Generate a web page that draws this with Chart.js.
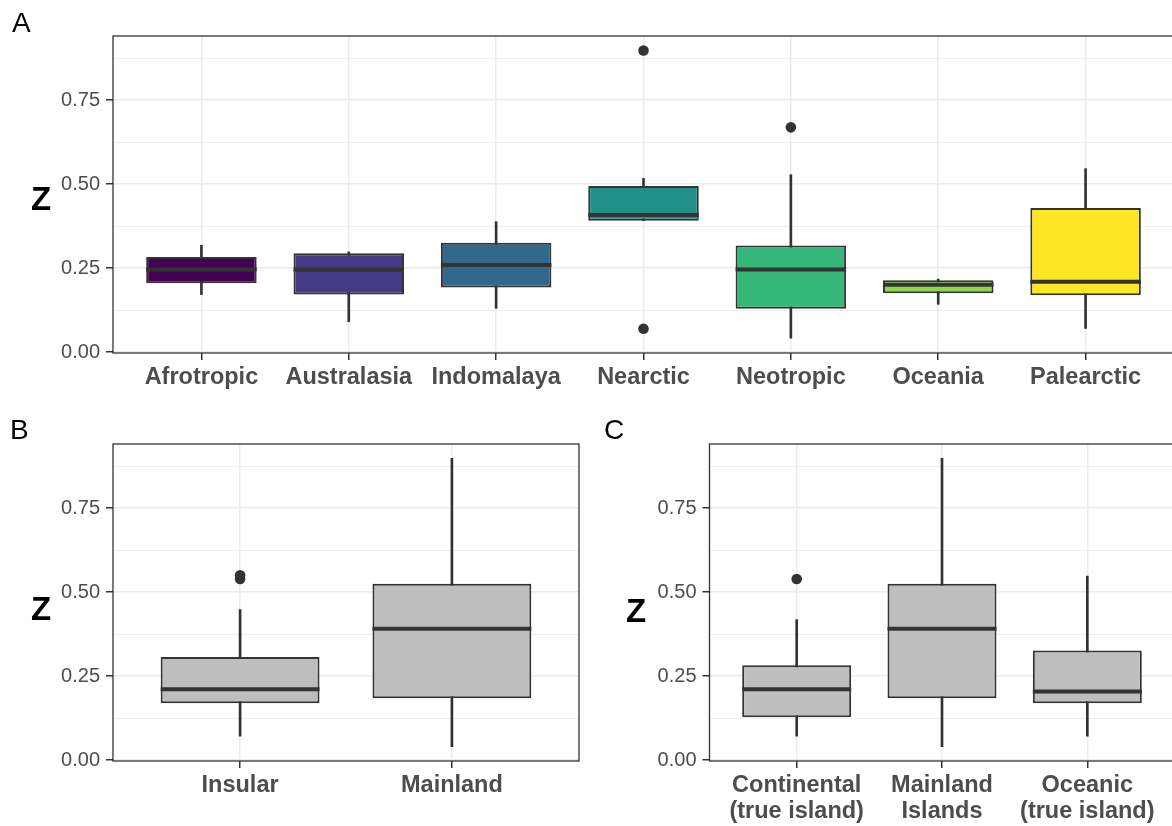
<!DOCTYPE html>
<html>
<head>
<meta charset="utf-8">
<script src="https://cdn.jsdelivr.net/npm/chart.js@4.4.1/dist/chart.umd.min.js"></script>
<style>
html,body{margin:0;padding:0;background:#fff;overflow:hidden;width:1172px;height:826px;position:relative;}
canvas{position:absolute;display:block;}
.lbl{position:absolute;font-family:"Liberation Sans",Arial,sans-serif;color:#000;line-height:1;white-space:nowrap;}
.panel{font-size:28px;}
.z{font-size:33px;font-weight:bold;}
</style>
</head>
<body>
<canvas id="cA" width="1176" height="405" style="left:0;top:0"></canvas>
<canvas id="cB" width="600" height="416" style="left:0;top:410px"></canvas>
<canvas id="cC" width="586" height="416" style="left:590px;top:410px"></canvas>
<div class="lbl panel" style="left:12px;top:9px">A</div>
<div class="lbl z" style="left:31px;top:182px">Z</div>
<div class="lbl panel" style="left:10px;top:416px">B</div>
<div class="lbl z" style="left:31px;top:592px">Z</div>
<div class="lbl panel" style="left:604px;top:416px">C</div>
<div class="lbl z" style="left:626px;top:594px">Z</div>
<script>
// ---------- Panel A: biogeographic realms ----------
const regionCats = ['Afrotropic','Australasia','Indomalaya','Nearctic','Neotropic','Oceania','Palearctic'];
const regionWhiskerLow  = [0.171, 0.090, 0.130, 0.391, 0.041, 0.142, 0.070];
const regionQ1          = [0.205, 0.171, 0.192, 0.391, 0.129, 0.175, 0.169];
const regionMedian      = [0.246, 0.246, 0.259, 0.408, 0.246, 0.200, 0.209];
const regionQ3          = [0.283, 0.294, 0.325, 0.494, 0.317, 0.214, 0.429];
const regionWhiskerHigh = [0.318, 0.298, 0.388, 0.517, 0.528, 0.217, 0.546];
const regionOutlierCat  = [3, 3, 4];
const regionOutlierVal  = [0.898, 0.069, 0.669];
const regionColors = ['#440154','#443A83','#31688E','#21908C','#35B779','#8FD744','#FDE725'];

// ---------- Panel B: insular vs mainland ----------
const landCats = ['Insular','Mainland'];
const landWhiskerLow  = [0.071, 0.040];
const landQ1          = [0.169, 0.184];
const landMedian      = [0.211, 0.391];
const landQ3          = [0.307, 0.525];
const landWhiskerHigh = [0.448, 0.898];
const landOutlierCat  = [0, 0];
const landOutlierVal  = [0.539, 0.550];

// ---------- Panel C: island types ----------
const islandCats = [['Continental','(true island)'],['Mainland','Islands'],['Oceanic','(true island)']];
const islandWhiskerLow  = [0.071, 0.040, 0.071];
const islandQ1          = [0.127, 0.184, 0.169];
const islandMedian      = [0.211, 0.391, 0.204];
const islandQ3          = [0.282, 0.525, 0.326];
const islandWhiskerHigh = [0.418, 0.898, 0.548];
const islandOutlierCat  = [0];
const islandOutlierVal  = [0.539];

// ---------- Y axis ----------
const yMajorTicks = [0, 0.25, 0.5, 0.75];
const yMinorTicks = [0.125, 0.375, 0.625, 0.875];
const yMin = -0.003, yMax = 0.941;

const FONT = '"Liberation Sans", Arial, sans-serif';
Chart.defaults.font.family = FONT;

const isMajor = v => yMajorTicks.some(t => Math.abs(t - v) < 1e-9);

const boxExtras = {
  id: 'boxExtras',
  afterDatasetsDraw(chart, args, opts) {
    const ctx = chart.ctx;
    const ys = chart.scales.y;
    const meta = chart.getDatasetMeta(1);
    ctx.save();
    ctx.strokeStyle = '#333333';
    ctx.lineWidth = 4;
    ctx.lineCap = 'butt';
    const meds = opts.medians || [];
    for (let i = 0; i < meds.length; i++) {
      const el = meta.data[i];
      if (!el) continue;
      const y = ys.getPixelForValue(meds[i]);
      ctx.beginPath();
      ctx.moveTo(el.x - el.width / 2, y);
      ctx.lineTo(el.x + el.width / 2, y);
      ctx.stroke();
    }
    const a = chart.chartArea;
    ctx.lineWidth = 1.3;
    ctx.strokeStyle = '#333333';
    ctx.strokeRect(a.left, a.top, a.right - a.left, a.bottom - a.top);
    ctx.restore();
  }
};

function makeBoxChart(id, p) {
  const n = p.cats.length;
  const idx = p.cats.map((c, i) => i);
  return new Chart(document.getElementById(id), {
    type: 'bar',
    data: {
      datasets: [
        {
          label: 'whisker',
          data: idx.map(i => ({x: i, y: [p.lo[i], p.hi[i]]})),
          backgroundColor: '#333333',
          borderWidth: 0,
          barThickness: 2,
          grouped: false,
          order: 2
        },
        {
          label: 'box',
          data: idx.map(i => ({x: i, y: [p.q1[i], p.q3[i]]})),
          backgroundColor: p.colors,
          borderColor: '#333333',
          borderWidth: 2,
          borderSkipped: false,
          categoryPercentage: 1,
          barPercentage: 0.75,
          grouped: false,
          order: 1
        },
        {
          type: 'scatter',
          label: 'outliers',
          data: p.outCat.map((c, k) => ({x: c, y: p.outVal[k]})),
          backgroundColor: '#333333',
          borderWidth: 0,
          pointRadius: 5.3,
          order: 0
        }
      ]
    },
    options: {
      responsive: false,
      animation: false,
      layout: {autoPadding: false, padding: p.padding},
      plugins: {
        legend: {display: false},
        tooltip: {enabled: false},
        boxExtras: {medians: p.med}
      },
      scales: {
        x: {
          type: 'linear',
          offset: false,
          min: -0.6,
          max: n - 1 + 0.6,
          afterBuildTicks: s => { s.ticks = idx.map(i => ({value: i})); },
          afterFit: s => { s.height = p.xH; },
          ticks: {
            autoSkip: false,
            maxRotation: 0,
            minRotation: 0,
            padding: 5,
            color: '#4d4d4d',
            font: {family: FONT, size: 23.5, weight: 'bold', lineHeight: 1.08},
            callback: v => p.cats[Math.round(v)]
          },
          grid: {
            offset: false,
            color: '#ebebeb',
            lineWidth: 1.5,
            tickColor: '#333333',
            tickLength: 7
          },
          border: {display: false}
        },
        y: {
          type: 'linear',
          min: yMin,
          max: yMax,
          afterBuildTicks: s => {
            s.ticks = yMajorTicks.concat(yMinorTicks).sort((a, b) => a - b).map(v => ({value: v}));
          },
          afterFit: s => { s.width = p.yW; },
          ticks: {
            autoSkip: false,
            padding: 6,
            color: '#4d4d4d',
            font: {family: FONT, size: 20},
            callback: v => isMajor(v) ? v.toFixed(2) : ''
          },
          grid: {
            color: '#ebebeb',
            lineWidth: c => (c.tick && !isMajor(c.tick.value)) ? 0.8 : 1.5,
            tickColor: c => (c.tick && !isMajor(c.tick.value)) ? 'rgba(0,0,0,0)' : '#333333',
            tickLength: 7
          },
          border: {display: false}
        }
      }
    },
    plugins: [boxExtras]
  });
}

const grey = '#bebebe';

makeBoxChart('cA', {
  cats: regionCats, lo: regionWhiskerLow, q1: regionQ1, med: regionMedian,
  q3: regionQ3, hi: regionWhiskerHigh, outCat: regionOutlierCat, outVal: regionOutlierVal,
  colors: regionColors,
  padding: {top: 36, right: 2, left: 0, bottom: 0}, yW: 113, xH: 52
});

makeBoxChart('cB', {
  cats: landCats, lo: landWhiskerLow, q1: landQ1, med: landMedian,
  q3: landQ3, hi: landWhiskerHigh, outCat: landOutlierCat, outVal: landOutlierVal,
  colors: landCats.map(() => grey),
  padding: {top: 34, right: 21, left: 0, bottom: 0}, yW: 113, xH: 65
});

makeBoxChart('cC', {
  cats: islandCats, lo: islandWhiskerLow, q1: islandQ1, med: islandMedian,
  q3: islandQ3, hi: islandWhiskerHigh, outCat: islandOutlierCat, outVal: islandOutlierVal,
  colors: islandCats.map(() => grey),
  padding: {top: 34, right: 1.5, left: 0, bottom: 0}, yW: 119.5, xH: 65
});
</script>
</body>
</html>
